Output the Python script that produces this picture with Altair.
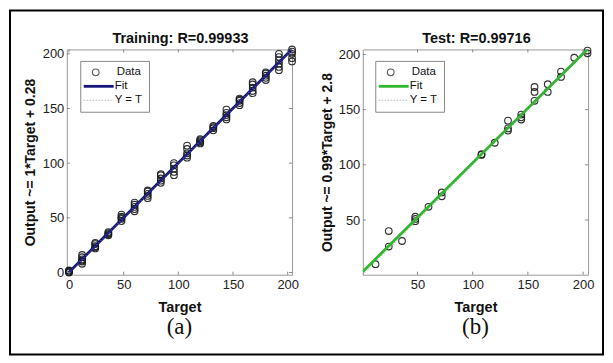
import altair as alt
import pandas as pd

# ---------------- data ----------------
train_targets = [0, 12, 24, 36, 48, 60, 72, 84, 96, 108, 120, 132, 144, 156, 168, 180, 192, 204]
train_outputs = [
    [0, 1, 2, 0.5, 1.5],
    [8, 10, 11, 12, 14, 16],
    [22, 23, 24, 26, 27],
    [34, 35, 36, 37],
    [47, 49, 50, 51, 53],
    [56, 58, 60, 62, 64],
    [68, 70, 72, 74, 75],
    [82, 84, 86, 89, 90],
    [89, 92, 95, 98, 100],
    [105, 107, 109, 113, 116],
    [118, 119, 120, 121, 122],
    [130, 132, 133, 134],
    [140, 142, 144, 146, 149],
    [153, 155, 157, 158, 159],
    [164, 166, 169, 172, 174],
    [176, 178, 180, 182, 183],
    [185, 188, 191, 194, 197, 200],
    [193, 196, 200, 202, 204],
]

test_targets = [12, 24, 36, 48, 60, 72, 108, 120, 132, 144, 156, 168, 180, 192, 204]
test_outputs = [
    [10],
    [40, 26],
    [31],
    [53, 51, 49],
    [62],
    [75, 71.5],
    [109.6, 109],
    [120],
    [140, 133, 131],
    [145.5, 143, 141],
    [170.5, 166, 158],
    [173, 166],
    [184.5, 179.6],
    [197],
    [203.5, 201],
]

train_fit = (1.0, 0.28)
test_fit = (0.99, 2.8)
train_domain = [-2, 204]
test_domain = [0.5, 204.5]
train_ticks = [0, 50, 100, 150, 200]
test_ticks = [50, 100, 150, 200]

W, H = 226, 226
FONT = "Liberation Sans"
SERIF = "Liberation Serif"


def points_df(targets, outputs):
    rows = []
    for t, outs in zip(targets, outputs):
        for o in outs:
            rows.append({"T": t, "O": o})
    return pd.DataFrame(rows)


def one():
    return pd.DataFrame({"k": [0]})


def panel(targets, outputs, fit, dom, ticks, fit_color, title, ytitle, ytitle_x,
          leg_x0, tag, frame):
    xs = alt.Scale(domain=dom, nice=False, zero=False)
    ys = alt.Scale(domain=dom, nice=False, zero=False)
    xax = alt.Axis(values=ticks, tickSize=0, domain=False, grid=False,
                   labelFont=FONT, labelFontSize=13, labelColor="#222",
                   labelPadding=4, labelFlush=False,
                   title="Target", titleFont=FONT, titleFontSize=14.5,
                   titleFontWeight="bold", titleColor="#111",
                   titleY=33, titleBaseline="middle")
    yax = alt.Axis(values=ticks, tickSize=0, domain=False, grid=False,
                   labelFont=FONT, labelFontSize=13, labelColor="#222",
                   labelPadding=3, labelFlush=False,
                   title=ytitle, titleFont=FONT, titleFontSize=14,
                   titleFontWeight="bold", titleColor="#111",
                   titleX=ytitle_x, titleY=H / 2, titleBaseline="middle",
                   titleAlign="center", titleAngle=270)
    X = alt.X("T:Q", scale=xs, axis=xax)
    Y = alt.Y("O:Q", scale=ys, axis=yax)

    pts = alt.Chart(points_df(targets, outputs)).mark_point(
        shape="circle", filled=False, size=45, stroke="#1a1a1a", strokeWidth=1.1, opacity=0.9
    ).encode(x=X, y=Y)

    line_df = pd.DataFrame({"T": dom})
    fit_df = line_df.assign(O=line_df["T"] * fit[0] + fit[1])
    id_df = line_df.assign(O=line_df["T"])

    fit_line = alt.Chart(fit_df).mark_line(color=fit_color, strokeWidth=2.8, clip=True).encode(x=X, y=Y)
    id_line = alt.Chart(id_df).mark_line(color="#888", strokeWidth=1, strokeDash=[1, 2], clip=True).encode(x=X, y=Y)

    tdf_x = pd.DataFrame({"T": ticks})
    tdf_y = pd.DataFrame({"O": ticks})
    tk = dict(color="#888", strokeWidth=1)
    t_bot = alt.Chart(tdf_x).mark_rule(**tk).encode(x=X, y=alt.value(H), y2=alt.value(H - 3))
    t_top = alt.Chart(tdf_x).mark_rule(**tk).encode(x=X, y=alt.value(0), y2=alt.value(3))
    t_lft = alt.Chart(tdf_y).mark_rule(**tk).encode(y=Y, x=alt.value(0), x2=alt.value(3))
    t_rgt = alt.Chart(tdf_y).mark_rule(**tk).encode(y=Y, x=alt.value(W), x2=alt.value(W - 3))

    # legend box
    lx = leg_x0
    leg_box = alt.Chart(one()).mark_rect(fill="white", stroke="#888", strokeWidth=1).encode(
        x=alt.value(lx), x2=alt.value(lx + 69), y=alt.value(12), y2=alt.value(63))
    leg_pt = alt.Chart(one()).mark_point(shape="circle", filled=False, size=45, stroke="#1a1a1a",
                                         strokeWidth=1.1).encode(x=alt.value(lx + 15), y=alt.value(23))
    leg_fit = alt.Chart(one()).mark_rule(color=fit_color, strokeWidth=2.8).encode(
        x=alt.value(lx + 3), x2=alt.value(lx + 33), y=alt.value(37))
    leg_id = alt.Chart(one()).mark_rule(color="#999", strokeWidth=1, strokeDash=[1, 2]).encode(
        x=alt.value(lx + 3), x2=alt.value(lx + 33), y=alt.value(51))
    txt = dict(font=FONT, fontSize=11.5, color="#111", align="left", baseline="middle")
    leg_t1 = alt.Chart(one()).mark_text(text="Data", **txt).encode(x=alt.value(lx + 36), y=alt.value(23))
    leg_t2 = alt.Chart(one()).mark_text(text="Fit", **txt).encode(x=alt.value(lx + 34), y=alt.value(37))
    leg_t3 = alt.Chart(one()).mark_text(text="Y = T", **txt).encode(x=alt.value(lx + 34), y=alt.value(51))

    title_txt = alt.Chart(one()).mark_text(text=title, font=FONT, fontSize=14.5, fontWeight="bold",
                                           color="#111", align="center", baseline="alphabetic").encode(
        x=alt.value(W / 2 + 1), y=alt.value(-6))

    tag_txt = alt.Chart(one()).mark_text(text=tag, font=SERIF, fontSize=23, color="#111",
                                         align="center", baseline="middle").encode(
        x=alt.value(W / 2), y=alt.value(H + 53))

    layers = []
    if frame:
        layers.append(alt.Chart(one()).mark_rect(fill="transparent", stroke="black", strokeWidth=2).encode(
            x=alt.value(-57), x2=alt.value(538), y=alt.value(-39), y2=alt.value(306)))
    layers += [pts, fit_line, id_line, t_bot, t_top, t_lft, t_rgt,
               leg_box, leg_pt, leg_fit, leg_id, leg_t1, leg_t2, leg_t3, title_txt, tag_txt]
    return alt.layer(*layers).properties(width=W, height=H)


a = panel(train_targets, train_outputs, train_fit, train_domain, train_ticks, "#15157a",
          "Training: R=0.99933", "Output ~= 1*Target + 0.28", -36, 14, "(a)", True)
b = panel(test_targets, test_outputs, test_fit, test_domain, test_ticks, "#2db82d",
          "Test: R=0.99716", "Output ~= 0.99*Target + 2.8", -35, 13, "(b)", False)

chart = alt.hconcat(a, b, spacing=71, bounds="flush").properties(
    padding=0, background="white"
).configure_view(stroke="#999", strokeWidth=1, fill="white")

chart.save("out.html", embed_options={"renderer": "svg", "actions": False})
